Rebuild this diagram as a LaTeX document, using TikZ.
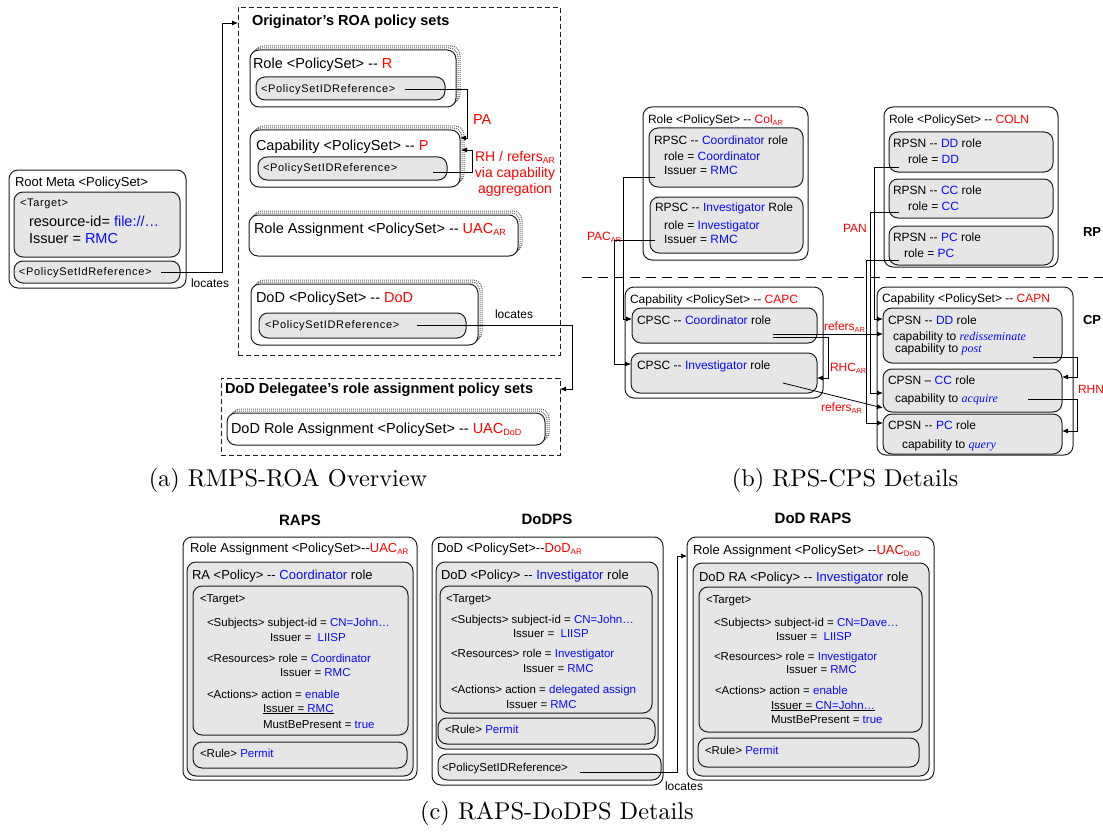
\documentclass[tikz,border=0pt]{standalone}
\usepackage{fontspec}
\newfontfamily\lsans{Liberation Sans}
\newfontfamily\lsansS[LetterSpace=6]{Liberation Sans}
\newfontfamily\lserif{Liberation Serif}
\newfontfamily\capfont{lmroman10-regular.otf}
\usetikzlibrary{arrows.meta,fit,calc}
\definecolor{rd}{RGB}{255,0,0}
\definecolor{bl}{RGB}{10,10,255}
\definecolor{gfill}{RGB}{230,230,230}
\definecolor{edge}{RGB}{30,30,30}
\newcommand{\dd}{-{}-}
\newcommand{\sbx}[1]{\raisebox{-0.3ex}{\scalebox{0.62}{#1}}}
\newcommand{\itser}{\lserif\itshape}
\newcounter{tc}
\newcommand{\T}[4][]{\stepcounter{tc}\node[txt,#1] (t\thetc) at (#2,#3) {#4};}
\newcommand{\BX}[6]{\node[#1, fit={(#3,#4) (#5,#6)}] (#2) {};}
\newcommand{\STK}[5]{%
  \node[sbox, fit={(#2+4,#3-4) (#4+4,#5-4)}] (#1b) {};
  \node[sbox, fit={(#2+2,#3-2) (#4+2,#5-2)}] (#1a) {};
  \node[obox, fit={(#2,#3) (#4,#5)}] (#1) {};}
\tikzset{
  obox/.style={draw=edge, line width=1pt, rounded corners=9pt, fill=white, inner sep=0pt, outer sep=0pt},
  ibox/.style={draw=edge, line width=1pt, rounded corners=9pt, fill=gfill, inner sep=0pt, outer sep=0pt},
  sbox/.style={draw=black!60, line width=1pt, densely dotted, rounded corners=9pt, fill=white, inner sep=0pt, outer sep=0pt},
  dbox/.style={draw=edge, line width=0.8pt, dash pattern=on 5pt off 3pt, inner sep=0pt, outer sep=0pt},
  txt/.style={anchor=west, inner sep=0pt, outer sep=0pt, text depth=0pt},
  sA/.style={font=\lsans\fontsize{14.5}{17}\selectfont, text height=10.4pt},
  sR/.style={font=\lsans\fontsize{13}{15}\selectfont, text height=9.3pt},
  sS/.style={font=\lsansS\fontsize{11}{13}\selectfont, text height=7.9pt},
  sB/.style={font=\lsans\bfseries\fontsize{14.5}{17}\selectfont, text height=10.4pt},
  sBm/.style={font=\lsans\bfseries\fontsize{13}{15}\selectfont, text height=9.3pt},
  sM/.style={font=\lsans\fontsize{12}{14}\selectfont, text height=8.6pt},
  sC/.style={font=\lsans\fontsize{11.5}{13}\selectfont, text height=8.2pt},
  sCT/.style={font=\lsans\fontsize{13}{15}\selectfont, text height=9.3pt},
  rtxt/.style={text=rd},
  capt/.style={font=\capfont\fontsize{24.3}{28}\selectfont, inner sep=0pt},
  conn/.style={draw=black, line width=0.8pt},
  arr/.style={conn, -{Latex[length=6pt,width=5pt]}},
}
\begin{document}
\begin{tikzpicture}[x=1pt,y=-1pt]
\fill[white] (0,0) rectangle (1103,832);
\useasboundingbox (0,0) rectangle (1103,832);

%%%%%%%%%%%%%%%% PANEL A
\BX{obox}{root}{9}{170}{186}{288}
\BX{ibox}{roottgt}{14}{192}{180}{257}
\BX{ibox}{rootref}{14}{261}{180}{283}
\T[sR]{15}{182}{Root Meta <PolicySet>}
\T[sS]{20}{203}{<Target>}
\T[sA]{29}{221}{resource-id= \textcolor{bl}{file://…}}
\T[sA]{29}{238}{Issuer = \textcolor{bl}{RMC}}
\T[sS]{19}{272}{<PolicySetIdReference>}
\T[sM]{191}{283}{locates}

\BX{dbox}{roa}{238}{7}{560}{355}
\T[sB]{252}{20}{Originator’s ROA policy sets}

\STK{role}{250}{50}{456}{107}
\BX{ibox}{roleref}{256}{77}{445}{100}
\T[sA]{253}{63}{Role <PolicySet> \dd\ \textcolor{rd}{R}}
\T[sS]{261}{89}{<PolicySetIDReference>}

\STK{cap}{250}{130}{460}{187}
\BX{ibox}{capref}{258}{157}{447}{180}
\T[sA]{256}{145}{Capability <PolicySet> \dd\ \textcolor{rd}{P}}
\T[sS]{263}{168}{<PolicySetIDReference>}
\T[sA,rtxt]{473}{119}{PA}
\node[font=\lsans\fontsize{14}{16}\selectfont, text=rd, align=center, inner sep=0pt] (rhlab) at (515,174) {RH / refers\sbx{AR}\\via capability\\aggregation};

\STK{ra}{249}{215}{518}{256}
\T[sA]{254}{228}{Role Assignment <PolicySet> \dd\ \textcolor{rd}{UAC\sbx{AR}}}

\STK{dod}{251}{284}{478}{345}
\BX{ibox}{dodref}{259}{313}{466}{338}
\T[sA]{256}{297}{DoD <PolicySet> \dd\ \textcolor{rd}{DoD}}
\T[sS]{265}{325}{<PolicySetIDReference>}
\T[sM]{495}{314}{locates}

\BX{dbox}{dlg}{221}{378}{560}{455}
\T[sB]{225}{388}{DoD Delegatee’s role assignment policy sets}
\STK{dra}{227}{413}{545}{445}
\T[sA]{231}{428}{DoD Role Assignment <PolicySet> \dd\ \textcolor{rd}{UAC\sbx{DoD}}}

\node[capt] (capa) at (288,480) {(a) RMPS-ROA Overview};

% connectors panel A
\coordinate (rootc) at (161,272);
\draw[arr] (rootc) -- (222,272) -- (222,23) -- ($(roa.north west)+(0,16)$);
\coordinate (pa0) at (405,89);
\draw[arr] (pa0) -- (467,89) -- (467,138) -- ($(cap.north east)+(0,8)$);
\coordinate (rh0) at (433,172);
\draw[arr] (rh0) -- (472,172) -- (472,150) -- ($(cap.north east)+(1,20)$);
\coordinate (dl0) at (417,325);
\draw[arr] (dl0) -- (572,325) -- (572,389) -- ($(dlg.north east)+(0,11)$);

%%%%%%%%%%%%%%%% PANEL B
\coordinate (hl1) at (582,277);
\coordinate (hl2) at (1103,277);
\draw[line width=1pt, dash pattern=on 10pt off 6pt] (hl1) -- (hl2);
\T[sBm]{1083}{232}{RP}
\T[sBm]{1083}{320}{CP}

\BX{obox}{colar}{643}{107}{808}{260}
\T[sM]{648}{119}{Role <PolicySet> \dd\ \textcolor{rd}{Col\sbx{AR}}}
\BX{ibox}{rpsc1}{649}{128}{803}{187}
\T[sM]{654}{140}{RPSC \dd\ \textcolor{bl}{Coordinator} role}
\T[sM]{664}{156}{role = \textcolor{bl}{Coordinator}}
\T[sM]{664}{170}{Issuer = \textcolor{bl}{RMC}}
\BX{ibox}{rpsc2}{650}{197}{803}{253}
\T[sM]{655}{207}{RPSC \dd\ \textcolor{bl}{Investigator} Role}
\T[sM]{664}{225}{role = \textcolor{bl}{Investigator}}
\T[sM]{664}{239}{Issuer = \textcolor{bl}{RMC}}
\T[sM,rtxt]{587}{236}{PAC\sbx{AR}}

\BX{obox}{coln}{884}{107}{1058}{267}
\T[sM]{889}{119}{Role <PolicySet> \dd\ \textcolor{rd}{COLN}}
\BX{ibox}{rpsn1}{889}{132}{1053}{172}
\T[sM]{893}{143}{RPSN \dd\ \textcolor{bl}{DD} role}
\T[sM]{908}{159}{role = \textcolor{bl}{DD}}
\BX{ibox}{rpsn2}{889}{179}{1053}{218}
\T[sM]{893}{190}{RPSN \dd\ \textcolor{bl}{CC} role}
\T[sM]{908}{206}{role = \textcolor{bl}{CC}}
\BX{ibox}{rpsn3}{889}{226}{1053}{265}
\T[sM]{893}{237}{RPSN \dd\ \textcolor{bl}{PC} role}
\T[sM]{904}{253}{role = \textcolor{bl}{PC}}
\T[sM,rtxt]{843}{228}{PAN}

\BX{obox}{capc}{625}{287}{823}{398}
\T[sM]{630}{299}{Capability <PolicySet> \dd\ \textcolor{rd}{CAPC}}
\BX{ibox}{cpsc1}{632}{308}{817}{343}
\T[sM]{637}{320}{CPSC \dd\ \textcolor{bl}{Coordinator} role}
\BX{ibox}{cpsc2}{631}{353}{817}{393}
\T[sM]{637}{365}{CPSC \dd\ \textcolor{bl}{Investigator} role}

\BX{obox}{capn}{877}{287}{1073}{455}
\T[sM]{882}{298}{Capability <PolicySet> \dd\ \textcolor{rd}{CAPN}}
\BX{ibox}{cpsn1}{883}{308}{1062}{363}
\T[sM]{888}{320}{CPSN \dd\ \textcolor{bl}{DD} role}
\T[sM]{893}{336}{capability to \textcolor{bl}{\itser redisseminate}}
\T[sM]{895}{348}{capability to \textcolor{bl}{\itser post}}
\BX{ibox}{cpsn2}{883}{369}{1062}{412}
\T[sM]{888}{380}{CPSN – \textcolor{bl}{CC} role}
\T[sM]{895}{398}{capability to \textcolor{bl}{\itser acquire}}
\BX{ibox}{cpsn3}{883}{414}{1062}{454}
\T[sM]{888}{425}{CPSN \dd\ \textcolor{bl}{PC} role}
\T[sM]{902}{444}{capability to \textcolor{bl}{\itser query}}

\T[sM,rtxt]{824}{326}{refers\sbx{AR}}
\T[sM,rtxt]{830}{367}{RHC\sbx{AR}}
\T[sM,rtxt]{821}{407}{refers\sbx{AR}}
\T[sM,rtxt]{1078}{389}{RHN}

% connectors panel B
\coordinate (pc1) at (655,177);
\draw[arr] (pc1) -- (623,177) |- ($(cpsc1.north west)+(0,11)$);
\coordinate (pc2) at (655,240);
\draw[arr] (pc2) -- (614,240) |- ($(cpsc2.north west)+(0,11)$);
\coordinate (pn1) at (899,167);
\draw[arr] (pn1) -- (874,167) |- ($(cpsn1.north west)+(0,11)$);
\coordinate (pn2) at (899,212);
\draw[arr] (pn2) -- (870,212) |- ($(cpsn2.north west)+(0,24)$);
\coordinate (pn3) at (899,260);
\draw[arr] (pn3) -- (866,260) |- ($(cpsn3.north west)+(0,9)$);
\coordinate (rf1) at (773,334);
\draw[arr] (rf1) -- ($(cpsn1.north west)+(0,26)$);
\coordinate (rh1) at (773,337);
\draw[arr] (rh1) -- (828,337) -- (828,378) -- ($(cpsc2.north east)+(0,25)$);
\coordinate (rf2) at (783,383);
\draw[arr] (rf2) -- ($(cpsn2.south west)+(0,-4)$);
\coordinate (rn1) at (1033,357);
\draw[arr] (rn1) -- (1077,357) -- (1077,377) -- ($(cpsn2.north east)+(0,8)$);
\coordinate (rn2) at (1028,399);
\draw[arr] (rn2) -- (1077,399) -- (1077,431) -- ($(cpsn3.north east)+(0,17)$);

\node[capt] (capb) at (845,480) {(b) RPS-CPS Details};

%%%%%%%%%%%%%%%% PANEL C
\node[font=\lsans\bfseries\fontsize{15}{17}\selectfont, inner sep=0pt] (hraps) at (300,520) {RAPS};
\BX{obox}{raps}{183}{537}{417}{780}
\T[sCT]{190}{548}{Role Assignment <PolicySet>\dd\textcolor{rd}{UAC\sbx{AR}}}
\BX{ibox}{rapol}{187}{562}{413}{776}
\T[sCT]{192}{575}{RA <Policy> \dd\ \textcolor{bl}{Coordinator} role}
\BX{ibox}{ratgt}{193}{586}{408}{735}
\T[sC]{200}{598}{<Target>}
\T[sC]{207}{622}{<Subjects> subject-id = \textcolor{bl}{CN=John…}}
\T[sC]{270}{637}{Issuer = \ \textcolor{bl}{LIISP}}
\T[sC]{207}{658}{<Resources> role = \textcolor{bl}{Coordinator}}
\T[sC]{280}{672}{Issuer = \textcolor{bl}{RMC}}
\T[sC]{207}{694}{<Actions> action = \textcolor{bl}{enable}}
\T[sC]{263}{708}{\underline{Issuer = \textcolor{bl}{RMC}}}
\T[sC]{263}{724}{MustBePresent = \textcolor{bl}{true}}
\BX{ibox}{rarule}{193}{742}{407}{768}
\T[sC]{200}{753}{<Rule> \textcolor{bl}{Permit}}

\node[font=\lsans\bfseries\fontsize{15}{17}\selectfont, inner sep=0pt] (hdodps) at (547,519) {DoDPS};
\BX{obox}{dodps}{432}{537}{663}{785}
\T[sCT]{437}{548}{DoD <PolicySet>\dd\textcolor{rd}{DoD\sbx{AR}}}
\BX{ibox}{dodpol}{436}{562}{658}{749}
\T[sCT]{441}{575}{DoD <Policy> \dd\ \textcolor{bl}{Investigator} role}
\BX{ibox}{dodtgt}{440}{586}{652}{713}
\T[sC]{446}{598}{<Target>}
\T[sC]{451}{619}{<Subjects> subject-id = \textcolor{bl}{CN=John…}}
\T[sC]{513}{633}{Issuer = \ \textcolor{bl}{LIISP}}
\T[sC]{451}{653}{<Resources> role = \textcolor{bl}{Investigator}}
\T[sC]{523}{668}{Issuer = \textcolor{bl}{RMC}}
\T[sC]{451}{689}{<Actions> action = \textcolor{bl}{delegated assign}}
\T[sC]{506}{704}{Issuer = \textcolor{bl}{RMC}}
\BX{ibox}{dodrule}{438}{718}{655}{744}
\T[sC]{445}{729}{<Rule> \textcolor{bl}{Permit}}
\BX{ibox}{dodref2}{438}{754}{661}{780}
\T[sC]{442}{767}{<PolicySetIDReference>}
\T[sM]{665}{786}{locates}

\node[font=\lsans\bfseries\fontsize{15}{17}\selectfont, inner sep=0pt] (hdraps) at (813,518) {DoD RAPS};
\BX{obox}{draps}{687}{537}{934}{780}
\T[sCT]{693}{550}{Role Assignment <PolicySet> \dd\textcolor{rd}{UAC\sbx{DoD}}}
\BX{ibox}{drapol}{693}{563}{929}{776}
\T[sCT]{699}{577}{DoD RA <Policy> \dd\ \textcolor{bl}{Investigator} role}
\BX{ibox}{dratgt}{699}{587}{922}{732}
\T[sC]{706}{599}{<Target>}
\T[sC]{714}{622}{<Subjects> subject-id = \textcolor{bl}{CN=Dave…}}
\T[sC]{776}{636}{Issuer = \ \textcolor{bl}{LIISP}}
\T[sC]{714}{656}{<Resources> role = \textcolor{bl}{Investigator}}
\T[sC]{786}{669}{Issuer = \textcolor{bl}{RMC}}
\T[sC]{715}{690}{<Actions> action = \textcolor{bl}{enable}}
\T[sC]{771}{705}{\underline{Issuer = \textcolor{bl}{CN=John…}}}
\T[sC]{771}{719}{MustBePresent = \textcolor{bl}{true}}
\BX{ibox}{drarule}{698}{738}{919}{767}
\T[sC]{705}{750}{<Rule> \textcolor{bl}{Permit}}

\coordinate (dr0) at (580,772);
\draw[arr] (dr0) -- (677,772) -- (677,556) -- ($(draps.north west)+(0,19)$);

\node[capt] (capc) at (557,813) {(c) RAPS-DoDPS Details};
\end{tikzpicture}
\end{document}
